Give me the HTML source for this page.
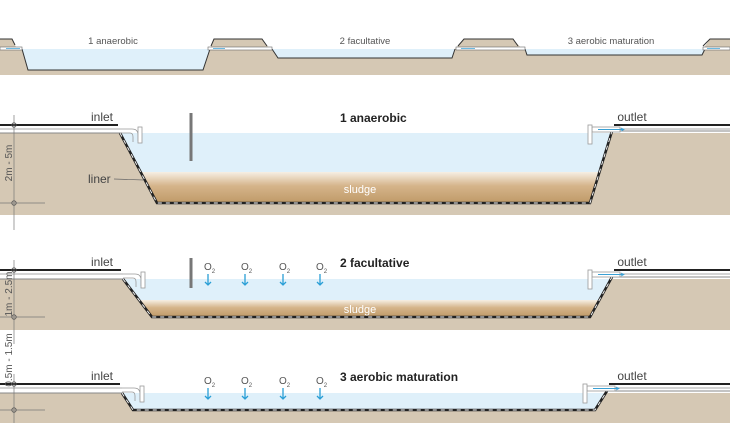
<!DOCTYPE html>
<html><head><meta charset="utf-8"><style>
body{margin:0;background:#fff}
svg{display:block;font-family:"Liberation Sans",sans-serif}
</style></head><body>
<svg id="d" width="730" height="423" viewBox="0 0 730 423">
<defs>
<linearGradient id="sl" x1="0" y1="0" x2="0" y2="1">
<stop offset="0" stop-color="#f6efe4"/><stop offset="0.45" stop-color="#d5b48a"/><stop offset="1" stop-color="#bf9a68"/>
</linearGradient>
</defs>
<g>
<rect x="0" y="49" width="730" height="26" fill="#d5c8b4"/>
<polygon points="0,39 12,39 17,49 0,49" fill="#d5c8b4"/>
<polygon points="210,49 214,39 262,39 270,49" fill="#d5c8b4"/>
<polygon points="455,49 464,39 513,39 522,49" fill="#d5c8b4"/>
<polygon points="703,49 710,39 730,39 730,49" fill="#d5c8b4"/>
<polygon points="22,49 210,49 203,70 28,70" fill="#dff0fa"/>
<polyline points="22,49 28,70 203,70 210,49" fill="none" stroke="#333" stroke-width="1"/>
<polygon points="272,49 455,49 452,58 278,58" fill="#dff0fa"/>
<polyline points="272,49 278,58 452,58 455,49" fill="none" stroke="#333" stroke-width="1"/>
<polygon points="525,49 705,49 702,55 527,55" fill="#dff0fa"/>
<polyline points="525,49 527,55 702,55 705,49" fill="none" stroke="#333" stroke-width="1"/>
<polyline points="0,39 12,39 15,45" fill="none" stroke="#333"/>
<polyline points="211,46 214,39 262,39 267,46" fill="none" stroke="#333"/>
<polyline points="458,46 464,39 513,39 518,46" fill="none" stroke="#333"/>
<polyline points="703,46 710,39 730,39" fill="none" stroke="#333"/>
<rect x="0" y="47" width="22" height="3" fill="#fff" stroke="#666" stroke-width="0.6"/>
<rect x="208" y="47" width="64" height="3" fill="#fff" stroke="#666" stroke-width="0.6"/>
<rect x="456" y="47" width="69" height="3" fill="#fff" stroke="#666" stroke-width="0.6"/>
<rect x="703" y="47" width="27" height="3" fill="#fff" stroke="#666" stroke-width="0.6"/>
<g stroke="#4aa8d8" stroke-width="0.8"><line x1="6" y1="48.5" x2="20" y2="48.5"/><line x1="213" y1="48.5" x2="225" y2="48.5"/><line x1="461" y1="48.5" x2="475" y2="48.5"/><line x1="707" y1="48.5" x2="720" y2="48.5"/></g>
<g font-size="9.5" fill="#555" text-anchor="middle">
<text x="113" y="44">1 anaerobic</text>
<text x="365" y="44">2 facultative</text>
<text x="611" y="44">3 aerobic maturation</text>
</g>
</g>
<g id="sections"></g>
</svg>
<script>
const NS="http://www.w3.org/2000/svg";
const root=document.getElementById('sections');
function el(t,a,p,txt){const e=document.createElementNS(NS,t);for(const k in a)e.setAttribute(k,a[k]);if(txt!==undefined)e.textContent=txt;(p||root).appendChild(e);return e;}
const secs=[
 {key:'anaerobic',title:'1 anaerobic',line:125,top:133,bot:203,gb:215,lx:120,lbx:157,rbx:590,rx:612,sl:[172,201],baf:[113,161],o2:false},
 {key:'facultative',title:'2 facultative',line:270,top:279,bot:317,gb:330,lx:123,lbx:152,rbx:590,rx:612,sl:[300,315],baf:[258,288],o2:true},
 {key:'aerobic',title:'3 aerobic maturation',line:384,top:393,bot:410,gb:423,lx:122,lbx:133,rbx:595,rx:607,sl:null,baf:null,o2:true}
];
const o2x=[208,245,283,320];
secs.forEach(s=>{
 const g=el('g',{});
 
 
 el('rect',{x:0,y:s.top,width:730,height:s.gb-s.top,fill:'#d5c8b4'},g);
 const w=el('polygon',{points:`${s.lx},${s.top} ${s.rx},${s.top} ${s.rbx},${s.bot} ${s.lbx},${s.bot}`,fill:'#dff0fa'},g);
 
 
 if(s.sl){
  const t=(s.sl[0]-s.top)/(s.bot-s.top);
  const sx1=s.lx+(s.lbx-s.lx)*t, sx2=s.rx+(s.rbx-s.rx)*t;
  const sp=el('polygon',{points:`${sx1},${s.sl[0]} ${sx2},${s.sl[0]} ${s.rbx},${s.bot} ${s.lbx},${s.bot}`,fill:'url(#sl)'},g);
  
  
  const st=el('text',{x:360,y:s.bot-(s.key==='anaerobic'?10:4),'font-size':11,fill:'#fff','text-anchor':'middle'},g,'sludge');
  
  
 }
 el('polyline',{points:`${s.lx},${s.top} ${s.lbx},${s.bot} ${s.rbx},${s.bot} ${s.rx},${s.top-2}`,fill:'none',stroke:'#222','stroke-width':2.6},g);
 el('polyline',{points:`${s.lx},${s.top} ${s.lbx},${s.bot} ${s.rbx},${s.bot} ${s.rx},${s.top-2}`,fill:'none',stroke:'#fff','stroke-width':0.9,'stroke-dasharray':'4 4'},g);
 el('rect',{x:0,y:s.line,width:s.lx,height:s.top-s.line,fill:'#fff'},g);
 el('rect',{x:s.rx,y:s.line,width:730-s.rx,height:s.top-2-s.line,fill:'#fff'},g);
 el('line',{x1:0,y1:s.line,x2:s.lx-2,y2:s.line,stroke:'#222','stroke-width':2},g);
 el('line',{x1:0,y1:s.line+4,x2:s.lx,y2:s.line+4,stroke:'#aaa','stroke-width':1},g);
 el('line',{x1:0,y1:s.top,x2:s.lx,y2:s.top,stroke:'#888','stroke-width':1},g);
 el('line',{x1:s.rx+2,y1:s.line,x2:730,y2:s.line,stroke:'#222','stroke-width':2},g);
 el('line',{x1:s.rx,y1:s.line+4,x2:730,y2:s.line+4,stroke:'#aaa','stroke-width':1},g);
 el('line',{x1:s.rx,y1:s.top-2,x2:730,y2:s.top-2,stroke:'#888','stroke-width':1},g);
 const ip=el('path',{d:`M${s.lx},${s.line+4} h12 q6,0 6,6 v6 M${s.lx},${s.line+8} h10 q3,0 3,4 v5`,fill:'none',stroke:'#999','stroke-width':0.8},g);
 
 
 el('rect',{x:s.lx+18,y:s.line+2,width:4,height:16,fill:'#fff',stroke:'#999','stroke-width':0.8},g);
 const op=el('rect',{x:s.rx-20,y:s.line+2,width:28,height:5,fill:'#fff',stroke:'#999','stroke-width':0.8},g);
 
 
 el('rect',{x:s.rx-24,y:s.line,width:4,height:19,fill:'#fff',stroke:'#999','stroke-width':0.8},g);
 el('line',{x1:s.rx-14,y1:s.line+4.5,x2:s.rx+12,y2:s.line+4.5,stroke:'#3aa0d4','stroke-width':0.9},g);
 el('path',{d:`M${s.rx+9},${s.line+3} l3,1.5 l-3,1.5`,fill:'none',stroke:'#3aa0d4','stroke-width':0.8},g);
 const it=el('text',{x:102,y:s.line-4,'font-size':12,fill:'#444','text-anchor':'middle'},g,'inlet');
 
 
 const ot=el('text',{x:632,y:s.line-4,'font-size':12,fill:'#444','text-anchor':'middle'},g,'outlet');
 
 
 const tt=el('text',{x:340,y:s.line-3,'font-size':12,'font-weight':'bold',fill:'#222'},g,s.title);
 
 
 if(s.baf){
  const b=el('rect',{x:189.5,y:s.baf[0],width:3,height:s.baf[1]-s.baf[0],fill:'#777'},g);
  
  
 }
 if(s.o2){
  o2x.forEach(x=>{
   const t=el('text',{x:x-4,y:s.line,'font-size':10,fill:'#555'},g,'O');
   el('tspan',{'font-size':6,dy:3},t,'2');
   
   
   const a=el('path',{d:`M${x},${s.line+4} v11 M${x-3},${s.line+12} l3,3 l3,-3`,fill:'none',stroke:'#2a9fd6','stroke-width':1.3},g);
   
   
  });
 }
 const dl=el('line',{x1:14,y1:s.line-10,x2:14,y2:s.bot+(s.key==='aerobic'?13:27),stroke:'#777','stroke-width':0.7},g);
 
 
 el('line',{x1:0,y1:s.bot,x2:45,y2:s.bot,stroke:'#777','stroke-width':0.7},g);
 [s.line,s.bot].forEach(y=>el('circle',{cx:14,cy:y,r:2.2,fill:'none',stroke:'#555','stroke-width':0.8},g));
});
const dlab=[['2m - 5m',163],['1m - 2.5m',294],['0.5m - 1.5m',360]];
dlab.forEach(d=>{
 const t=el('text',{x:0,y:0,'font-size':10,fill:'#555','text-anchor':'middle',transform:`translate(12,${d[1]}) rotate(-90)`},root,d[0]);
 
 
});
const ll=el('text',{x:88,y:183,'font-size':12,fill:'#444'},root,'liner');


el('line',{x1:114,y1:179,x2:144,y2:180,stroke:'#666','stroke-width':0.7});
</script>
</body></html>
